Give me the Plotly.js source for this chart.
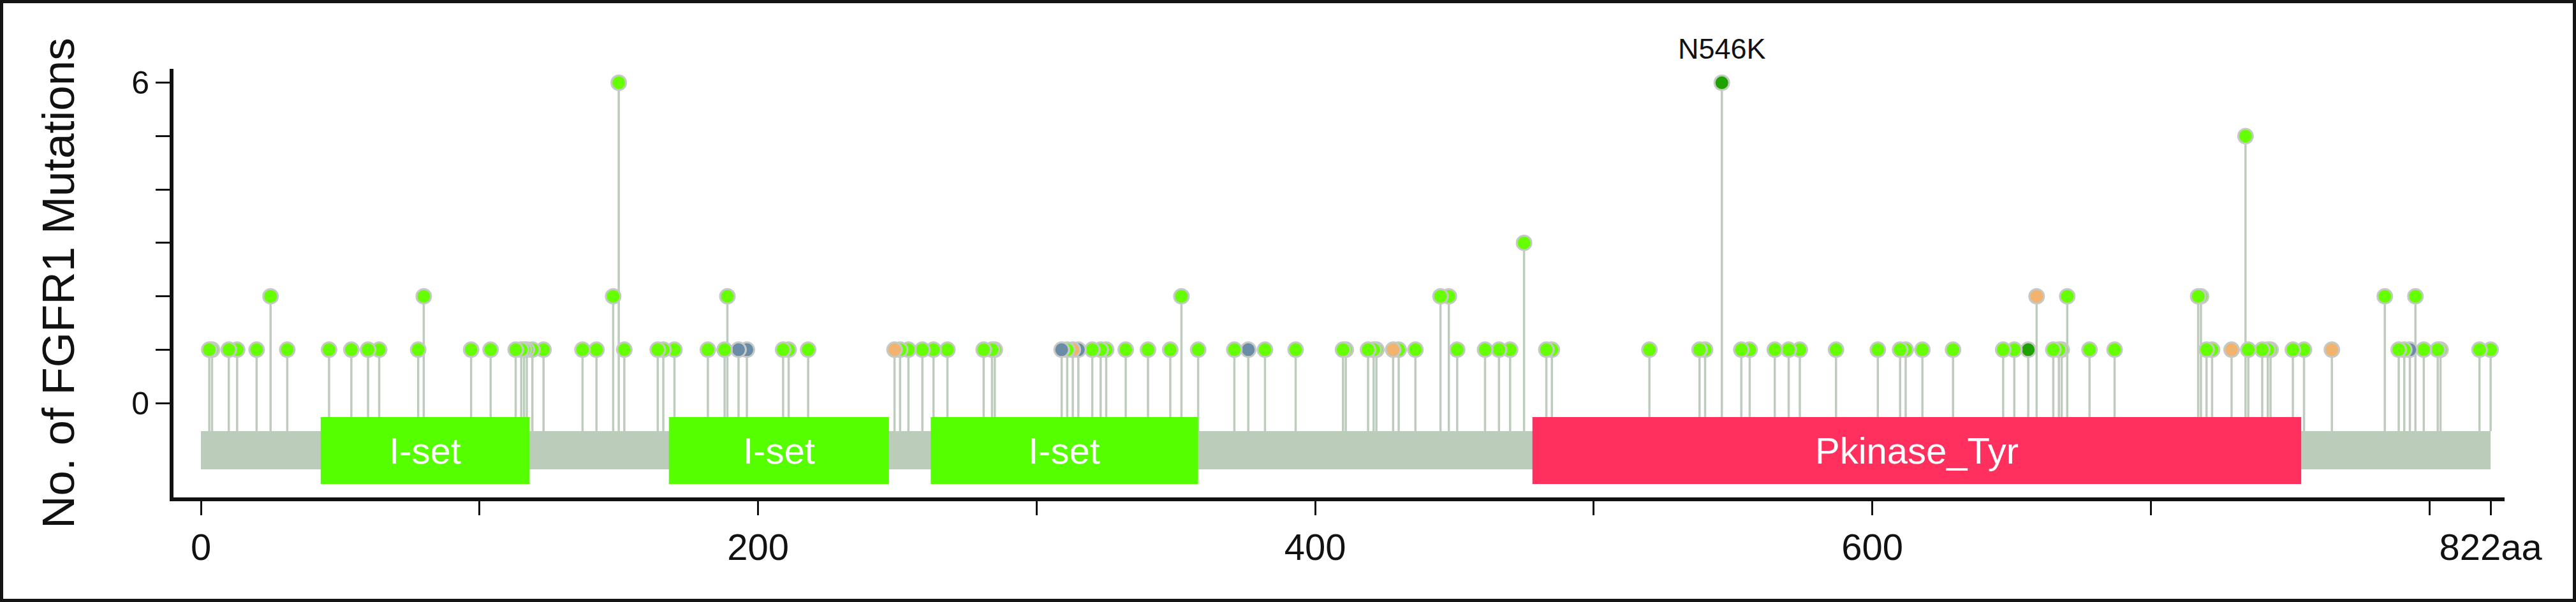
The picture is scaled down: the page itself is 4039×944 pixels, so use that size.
<!DOCTYPE html>
<html>
<head>
<meta charset="utf-8">
<script src="https://cdn.plot.ly/plotly-3.0.1.min.js"></script>
<style>
  html, body { margin:0; padding:0; background:#fff; }
  #wrap { position:relative; width:4039px; height:944px; }
  #chart { width:4039px; height:944px; }
  #frame { position:absolute; left:0; top:0; width:4039px; height:944px; box-sizing:border-box;
           border:5px solid #141414; pointer-events:none; }
</style>
</head>
<body>
<div id="wrap"><div id="chart"></div><div id="frame"></div></div>
<script>
// FGFR1 lollipop, 822 aa
const proteinLength = 822;

// domains (Pfam)
const domainName  = ["I-set", "I-set", "I-set", "Pkinase_Tyr"];
const domainStart = [43, 168, 262, 478];
const domainEnd   = [118, 247, 358, 754];

// mutations by class: residue position and count
const missensePos = [3,4,10,13,20,25,31,46,54,60,64,78,80,97,104,113,115,116,117,119,123,137,142,148,150,152,
  164,166,170,182,188,189,209,211,218,251,254,259,263,268,281,284,285,311,320,323,325,332,340,348,352,358,
  371,382,393,410,411,419,421,422,430,436,445,448,451,461,466,470,475,483,485,520,538,540,553,556,565,570,
  574,587,602,610,612,618,629,647,651,665,667,668,670,678,687,717,718,720,722,734,735,740,742,743,751,755,
  784,789,791,795,798,803,804,818,822];
const missenseCnt = [1,1,1,1,1,2,1,1,1,1,1,1,2,1,1,1,1,1,1,1,1,1,1,2,6,1,
  1,1,1,1,1,2,1,1,1,1,1,1,1,1,1,1,1,1,1,1,1,1,1,1,2,1,
  1,1,1,1,1,1,1,1,1,1,2,2,1,1,1,1,3,1,1,1,1,1,1,1,1,1,
  1,1,1,1,1,1,1,1,1,1,1,1,2,1,1,2,2,1,1,5,1,1,1,1,1,1,
  2,1,1,2,1,1,1,1,1];
const hotspotPos  = [546, 656];
const hotspotCnt  = [6, 1];
const truncPos    = [249, 313, 428, 659, 729, 765];
const truncCnt    = [1, 1, 1, 2, 1, 1];
const splicePos   = [193, 196, 309, 315, 376, 793];
const spliceCnt   = [1, 1, 1, 1, 1, 1];

const labelled = [{pos:546, cnt:6, text:"N546K"}];

// axis ticks
const xTickVals = [0, 100, 200, 300, 400, 500, 600, 700, 800, 822];
const xTickText = ["0", "", "200", "", "400", "", "600", "", "", "822aa"];
const yTickVals = [0, 1, 2, 3, 4, 5, 6];
const yTickText = ["0", "", "", "", "", "", "6"];

const COL = {missense:"#66ff00", hotspot:"#1fa200", trunc:"#f2b36f", splice:"#6a8ca6",
             stem:"#bdccbc", backbone:"#bbccbb", iset:"#55ff00", kinase:"#ff2f5e", ink:"#111"};

// collect all points, draw right to left so the left one sits on top
const pts = [];
const add = (P, C, col) => P.forEach((p,i) => pts.push({p, c:C[i], col}));
add(missensePos, missenseCnt, COL.missense);
add(hotspotPos, hotspotCnt, COL.hotspot);
add(truncPos, truncCnt, COL.trunc);
add(splicePos, spliceCnt, COL.splice);
pts.sort((a,b) => b.p - a.p);

const BB_TOP = -0.525, BB_BOT = -1.24;   // backbone band
const DM_TOP = -0.263, DM_BOT = -1.515;  // domain boxes

const stemX = [], stemY = [];
pts.forEach(d => { stemX.push(d.p, d.p, null); stemY.push(BB_TOP, d.c, null); });

const traces = [
  {type:"scatter", mode:"lines", x:stemX, y:stemY, hoverinfo:"skip",
   line:{color:COL.stem, width:3.5}, showlegend:false},
  {type:"scatter", mode:"markers", x:pts.map(d=>d.p), y:pts.map(d=>d.c),
   marker:{size:23, color:pts.map(d=>d.col), line:{color:"#c6cac6", width:3}},
   showlegend:false}
];

const shapes = [
  {type:"rect", xref:"x", yref:"y", x0:0, x1:proteinLength, y0:BB_BOT, y1:BB_TOP,
   fillcolor:COL.backbone, line:{width:0}, layer:"below"}
];
const annotations = [];
domainName.forEach((n,i) => {
  shapes.push({type:"rect", xref:"x", yref:"y", x0:domainStart[i], x1:domainEnd[i], y0:DM_BOT, y1:DM_TOP,
    fillcolor: n === "I-set" ? COL.iset : COL.kinase, line:{width:0}, layer:"above"});
  annotations.push({x:(domainStart[i]+domainEnd[i])/2, y:(DM_TOP+DM_BOT)/2, xref:"x", yref:"y",
    text:n, showarrow:false, font:{family:"Liberation Sans, Arial", size:58, color:"#fff"}});
});
labelled.forEach(l => annotations.push({x:l.pos, y:l.cnt, xref:"x", yref:"y", text:l.text,
  showarrow:false, yanchor:"bottom", yshift:26,
  font:{family:"Liberation Sans, Arial", size:45, color:COL.ink}}));

const layout = {
  width:4039, height:944,
  paper_bgcolor:"#fff", plot_bgcolor:"#fff",
  margin:{l:272, r:112, t:108, b:164},
  font:{family:"Liberation Sans, Arial", color:COL.ink},
  showlegend:false,
  xaxis:{range:[-9.85, 827], showgrid:false, zeroline:false,
    showline:true, linewidth:6, linecolor:COL.ink,
    ticks:"outside", ticklen:22, tickwidth:3, tickcolor:COL.ink, tickangle:0,
    tickmode:"array", tickvals:xTickVals, ticktext:xTickText, tickfont:{size:58}},
  yaxis:{range:[-1.767, 6.26], showgrid:false, zeroline:false,
    showline:true, linewidth:6, linecolor:COL.ink,
    ticks:"outside", ticklen:22, tickwidth:3, tickcolor:COL.ink,
    tickmode:"array", tickvals:yTickVals, ticktext:yTickText, tickfont:{size:50},
    title:{text:"No. of FGFR1 Mutations", standoff:68,
      font:{family:"Liberation Sans, Arial", size:71, color:COL.ink}}},
  shapes, annotations
};

Plotly.newPlot("chart", traces, layout, {displayModeBar:false, staticPlot:true});
</script>
</body>
</html>
